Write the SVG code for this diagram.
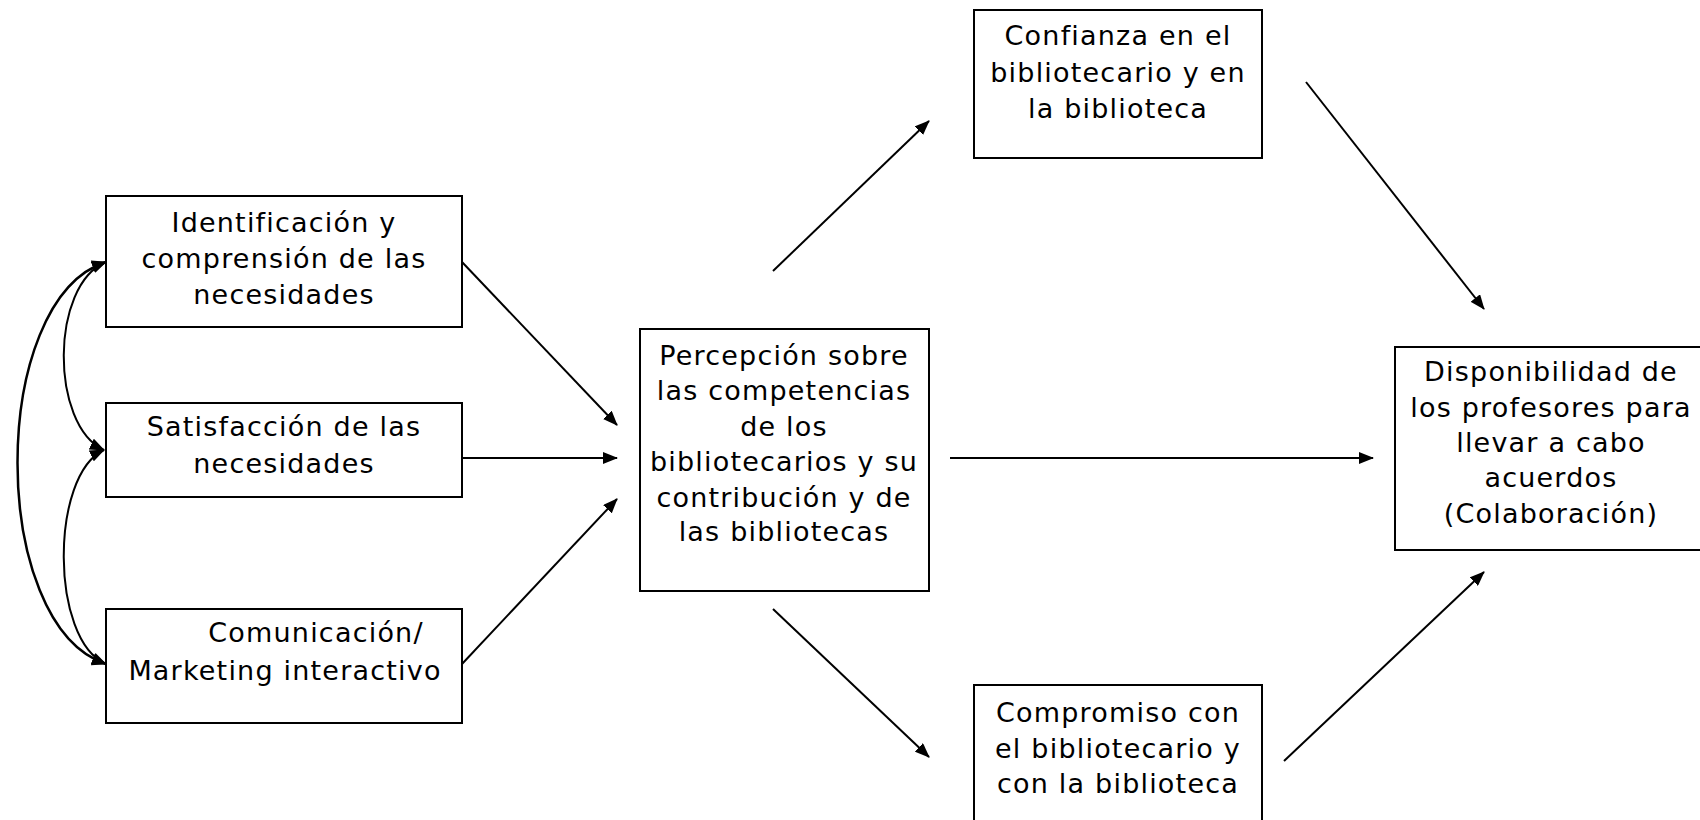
<svg xmlns="http://www.w3.org/2000/svg" width="1700" height="820" viewBox="0 0 1700 820">
<style>
.box{fill:#fff;stroke:#000;stroke-width:2}
.t{font-family:"DejaVu Sans",Verdana,sans-serif;font-size:27px;letter-spacing:1.2px;fill:#000;text-anchor:middle}
.c{fill:none;stroke:#000;stroke-width:2}
</style>
<defs>
<marker id="ah" viewBox="0 0 15 12" refX="14" refY="6" markerWidth="15" markerHeight="12" markerUnits="userSpaceOnUse" orient="auto-start-reverse">
<path d="M0,0 L15,6 L0,12 z" fill="#000"/>
</marker>
</defs>
<rect width="1700" height="820" fill="#fff"/>
<g id="n-identificacion">
<rect class="box" x="106" y="196" width="356" height="131"/>
<text class="t" x="284" y="232">Identificación y</text>
<text class="t" x="284" y="268">comprensión de las</text>
<text class="t" x="284" y="304">necesidades</text>
</g>
<g id="n-satisfaccion">
<rect class="box" x="106" y="403" width="356" height="94"/>
<text class="t" x="284" y="436">Satisfacción de las</text>
<text class="t" x="284" y="473">necesidades</text>
</g>
<g id="n-comunicacion">
<rect class="box" x="106" y="609" width="356" height="114"/>
<text class="t" x="316" y="642">Comunicación/</text>
<text class="t" x="285" y="680">Marketing interactivo</text>
</g>
<g id="n-percepcion">
<rect class="box" x="640" y="329" width="289" height="262"/>
<text class="t" x="784" y="365">Percepción sobre</text>
<text class="t" x="784" y="400">las competencias</text>
<text class="t" x="784" y="436">de los</text>
<text class="t" x="784" y="471">bibliotecarios y su</text>
<text class="t" x="784" y="507">contribución y de</text>
<text class="t" x="784" y="541">las bibliotecas</text>
</g>
<g id="n-confianza">
<rect class="box" x="974" y="10" width="288" height="148"/>
<text class="t" x="1118" y="45">Confianza en el</text>
<text class="t" x="1118" y="82">bibliotecario y en</text>
<text class="t" x="1118" y="118">la biblioteca</text>
</g>
<g id="n-compromiso">
<rect class="box" x="974" y="685" width="288" height="145"/>
<text class="t" x="1118" y="722">Compromiso con</text>
<text class="t" x="1118" y="758">el bibliotecario y</text>
<text class="t" x="1118" y="793">con la biblioteca</text>
</g>
<g id="n-disponibilidad">
<rect class="box" x="1395" y="347" width="312" height="203"/>
<text class="t" x="1551" y="381">Disponibilidad de</text>
<text class="t" x="1551" y="417">los profesores para</text>
<text class="t" x="1551" y="452">llevar a cabo</text>
<text class="t" x="1551" y="487">acuerdos</text>
<text class="t" x="1551" y="523">(Colaboración)</text>
</g>
<g id="connectors">
<line class="c" x1="462" y1="262" x2="617" y2="425" marker-end="url(#ah)"/>
<line class="c" x1="462" y1="458" x2="617" y2="458" marker-end="url(#ah)"/>
<line class="c" x1="462" y1="664" x2="617" y2="499" marker-end="url(#ah)"/>
<line class="c" x1="773" y1="271" x2="929" y2="121" marker-end="url(#ah)"/>
<line class="c" x1="950" y1="458" x2="1373" y2="458" marker-end="url(#ah)"/>
<line class="c" x1="773" y1="609" x2="929" y2="757" marker-end="url(#ah)"/>
<line class="c" x1="1306" y1="82" x2="1484" y2="309" marker-end="url(#ah)"/>
<line class="c" x1="1284" y1="761" x2="1484" y2="572" marker-end="url(#ah)"/>
<path class="c" d="M106,262 C50,285 50,425 104,450" marker-start="url(#ah)" marker-end="url(#ah)"/>
<path class="c" d="M104,450 C50,475 50,640 106,664" marker-start="url(#ah)" marker-end="url(#ah)"/>
<path class="c" style="stroke-width:2.5" d="M106,262 C-12,300 -12,625 106,664" marker-start="url(#ah)" marker-end="url(#ah)"/>
</g>
</svg>
